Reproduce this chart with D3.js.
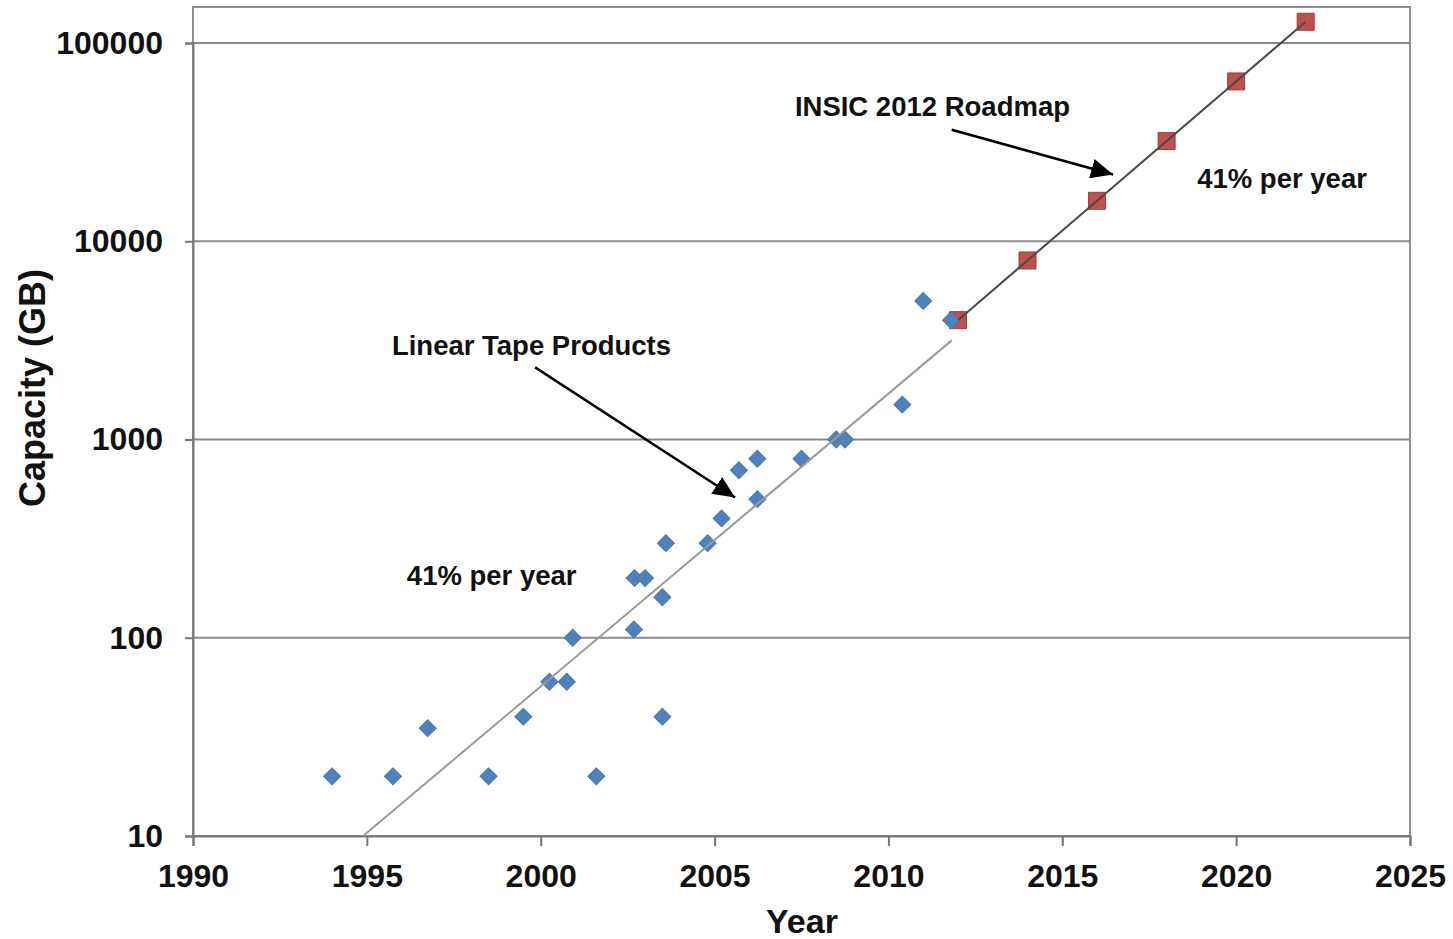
<!DOCTYPE html>
<html>
<head>
<meta charset="utf-8">
<script src="https://cdn.jsdelivr.net/npm/d3@7"></script>
<style>
  html, body { margin: 0; padding: 0; background: #ffffff; }
  svg { display: block; }
  text { font-family: "Liberation Sans", Arial, Helvetica, sans-serif; font-weight: bold; fill: #111; }
</style>
</head>
<body>
<svg id="chart" width="1453" height="939"></svg>
<script>
// ---- data ----
const tapeYears = [1994.0, 1995.75, 1996.75, 1998.5, 1999.5, 2000.25, 2000.75, 2000.92, 2001.6,
                   2002.68, 2002.7, 2003.0, 2003.5, 2003.5, 2003.6, 2004.8, 2005.2, 2005.7,
                   2006.23, 2006.23, 2007.5, 2008.5, 2008.75, 2010.4, 2011.0, 2011.8];
const tapeCapacity = [20, 20, 35, 20, 40, 60, 60, 100, 20,
                      110, 200, 200, 160, 40, 300, 300, 400, 700,
                      800, 500, 800, 1000, 1000, 1500, 5000, 4000];
const roadmapYears = [2012, 2014, 2016, 2018, 2020, 2022];
const roadmapCapacity = [4000, 8000, 16000, 32000, 64000, 128000];
const tapeTrendYears = [1994.89, 2011.82];
const tapeTrendCapacity = [10, 3162];
const roadmapTrendYears = [2012, 2022];
const roadmapTrendCapacity = [4000, 128000];
const xTicks = [1990, 1995, 2000, 2005, 2010, 2015, 2020, 2025];
const yTicks = [10, 100, 1000, 10000, 100000];
const yTickLabels = ["10", "100", "1000", "10000", "100000"];
const xTitle = "Year";
const yTitle = "Capacity (GB)";
const annotations = [
  { text: "INSIC 2012 Roadmap", year: 2007.31, cap: 42800 },
  { text: "41% per year", year: 2018.88, cap: 18560 },
  { text: "Linear Tape Products", year: 1995.72, cap: 2669 },
  { text: "41% per year", year: 1996.15, cap: 184.6 }
];
const arrows = [
  { from: [2011.82, 36500], to: [2016.46, 21700] },
  { from: [1999.84, 2310], to: [2005.59, 510] }
];

// ---- layout ----
const svg = d3.select("#chart");
const plotLeft = 193, plotRight = 1410, plotBottom = 836, plotTop = 7;
const x = d3.scaleLinear().domain([1990, 2025]).range([plotLeft, plotRight]);
const y = d3.scaleLog().domain([10, 100000]).range([plotBottom, 43]);

const gridColor = "#8a8a8a";

// gridlines
svg.append("g").selectAll("line").data(yTicks.filter(v => v > 10)).join("line")
  .attr("x1", plotLeft).attr("x2", plotRight)
  .attr("y1", d => y(d)).attr("y2", d => y(d))
  .attr("stroke", gridColor).attr("stroke-width", 2);

// plot frame
svg.append("rect")
  .attr("x", plotLeft).attr("y", plotTop)
  .attr("width", plotRight - plotLeft).attr("height", plotBottom - plotTop)
  .attr("fill", "none").attr("stroke", "#8f8f8f").attr("stroke-width", 2);

// axes
const xAxis = d3.axisBottom(x).tickValues(xTicks).tickFormat(d3.format("d")).tickSize(10).tickPadding(18);
const gx = svg.append("g").attr("transform", `translate(0,${plotBottom})`).call(xAxis);
gx.select(".domain").attr("stroke", "#777").attr("stroke-width", 2);
gx.selectAll(".tick line").attr("stroke", "#777").attr("stroke-width", 2);
gx.selectAll(".tick text").attr("font-size", 32).attr("fill", "#111");

const yAxis = d3.axisLeft(y).tickValues(yTicks).tickFormat((d, i) => yTickLabels[i]).tickSize(8).tickPadding(22);
const gy = svg.append("g").attr("transform", `translate(${plotLeft},0)`).call(yAxis);
gy.select(".domain").attr("stroke", "#777").attr("stroke-width", 2);
gy.selectAll(".tick line").attr("stroke", "#777").attr("stroke-width", 2);
gy.selectAll(".tick text").attr("font-size", 32).attr("fill", "#111");
gx.attr("font-family", null); gy.attr("font-family", null);

// roadmap squares
const roadmap = roadmapYears.map((yr, i) => ({ yr, c: roadmapCapacity[i] }));
svg.append("g").selectAll("path").data(roadmap).join("path")
  .attr("d", d3.symbol(d3.symbolSquare, 17 * 17)())
  .attr("transform", d => `translate(${x(d.yr)},${y(d.c)})`)
  .attr("fill", "#c0504d").attr("stroke", "#a03c3a").attr("stroke-width", 1);

// tape diamonds
const tape = tapeYears.map((yr, i) => ({ yr, c: tapeCapacity[i] }));
svg.append("g").selectAll("path").data(tape).join("path")
  .attr("d", d3.symbol(d3.symbolSquare, 12 * 12)())
  .attr("transform", d => `translate(${x(d.yr)},${y(d.c)}) rotate(45)`)
  .attr("fill", "#4f81bd").attr("stroke", "#4a7ab4").attr("stroke-width", 1);

// trend lines
const line = d3.line().x(d => x(d[0])).y(d => y(d[1]));
svg.append("path")
  .attr("d", line(tapeTrendYears.map((yr, i) => [yr, tapeTrendCapacity[i]])))
  .attr("fill", "none").attr("stroke", "#9a9a9a").attr("stroke-width", 2);
svg.append("path")
  .attr("d", line(roadmapTrendYears.map((yr, i) => [yr, roadmapTrendCapacity[i]])))
  .attr("fill", "none").attr("stroke", "#4a4a4a").attr("stroke-width", 2);

// arrowheads
svg.append("defs").append("marker")
  .attr("id", "arrowhead").attr("markerUnits", "userSpaceOnUse")
  .attr("markerWidth", 24).attr("markerHeight", 20)
  .attr("refX", 22).attr("refY", 10).attr("orient", "auto")
  .append("path").attr("d", "M0,0 L22,10 L0,20 Z").attr("fill", "#000");

svg.append("g").selectAll("line").data(arrows).join("line")
  .attr("x1", d => x(d.from[0])).attr("y1", d => y(d.from[1]))
  .attr("x2", d => x(d.to[0])).attr("y2", d => y(d.to[1]))
  .attr("stroke", "#000").attr("stroke-width", 2.5)
  .attr("marker-end", "url(#arrowhead)");

// annotation text
svg.append("g").selectAll("text").data(annotations).join("text")
  .attr("x", d => x(d.year)).attr("y", d => y(d.cap))
  .attr("text-anchor", "start")
  .attr("font-size", 27.5)
  .text(d => d.text);

// axis titles
svg.append("text")
  .attr("x", 802).attr("y", 933)
  .attr("text-anchor", "middle").attr("font-size", 34)
  .text(xTitle);
svg.append("text")
  .attr("transform", "translate(45,388) rotate(-90)")
  .attr("text-anchor", "middle").attr("font-size", 36)
  .text(yTitle);
</script>
</body>
</html>
